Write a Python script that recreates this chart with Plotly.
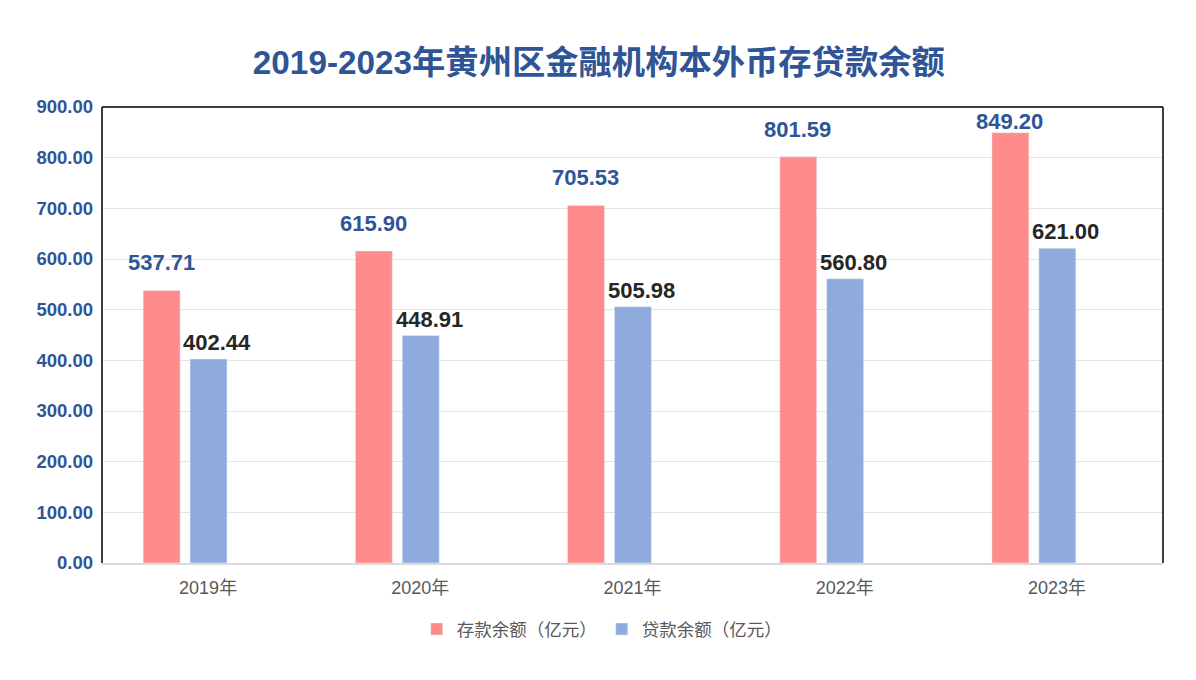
import plotly.graph_objects as go

years = ["2019年", "2020年", "2021年", "2022年", "2023年"]
deposits = [537.71, 615.90, 705.53, 801.59, 849.20]
loans = [402.44, 448.91, 505.98, 560.80, 621.00]
deposit_name = "存款余额（亿元）"
loan_name = "贷款余额（亿元）"
title = "2019-2023年黄州区金融机构本外币存贷款余额"

FONT = "Liberation Sans, Arial, Noto Sans CJK SC, sans-serif"
BLUE_TXT = "#2F5597"
PINK = "#FF8B8B"
BLUE = "#8FAADC"

fig = go.Figure()
fig.add_bar(x=years, y=deposits, name=deposit_name, marker_color=PINK,
            offset=-0.306, width=0.174, hoverinfo="y")
fig.add_bar(x=years, y=loans, name=loan_name, marker_color=BLUE,
            offset=-0.085, width=0.174, hoverinfo="y")

# value labels (the top one is pushed down to stay inside the frame, like Excel does)
for yr, v in zip(years, deposits):
    fig.add_annotation(x=yr, y=min(v + 26, 842), text=f"{v:.2f}", showarrow=False,
                       xshift=-47, yanchor="bottom",
                       font=dict(family=FONT, size=22, color=BLUE_TXT, weight="bold"))
for yr, v in zip(years, loans):
    fig.add_annotation(x=yr, y=v + 4, text=f"{v:.2f}", showarrow=False,
                       xshift=9, yanchor="bottom",
                       font=dict(family=FONT, size=22, color="#262626", weight="bold"))

# frame: black top/left/right, grey baseline from the x axis
for x0, y0, x1, y1 in [(0, 1, 1, 1), (0, 0, 0, 1), (1, 0, 1, 1)]:
    fig.add_shape(type="line", xref="paper", yref="paper", x0=x0, y0=y0, x1=x1, y1=y1,
                  line=dict(color="black", width=1.5), layer="above")

fig.update_layout(
    width=1196, height=680,
    margin=dict(l=94, r=41, t=99, b=125),
    paper_bgcolor="white", plot_bgcolor="white",
    barmode="overlay",
    font=dict(family=FONT, color="#595959"),
    title=dict(text=title, x=0.494, xanchor="center", y=0.92, yanchor="middle",
               font=dict(family=FONT, size=33.3, color=BLUE_TXT, weight="bold")),
    legend=dict(orientation="h", x=0.471, xanchor="center", y=-0.145, yanchor="middle",
                font=dict(size=17.5, color="#595959"), itemwidth=30),
    xaxis=dict(showline=True, linecolor="#D9D9D9", linewidth=1.5,
               tickfont=dict(size=18, color="#595959"), ticklabelstandoff=8),
    yaxis=dict(range=[0, 900], dtick=100, tickformat=".2f", showgrid=True,
               gridcolor="#E3E3E3", zeroline=False,
               tickfont=dict(size=18.5, color=BLUE_TXT, weight="bold"), ticklabelstandoff=8),
)

fig.write_html("out.html")
